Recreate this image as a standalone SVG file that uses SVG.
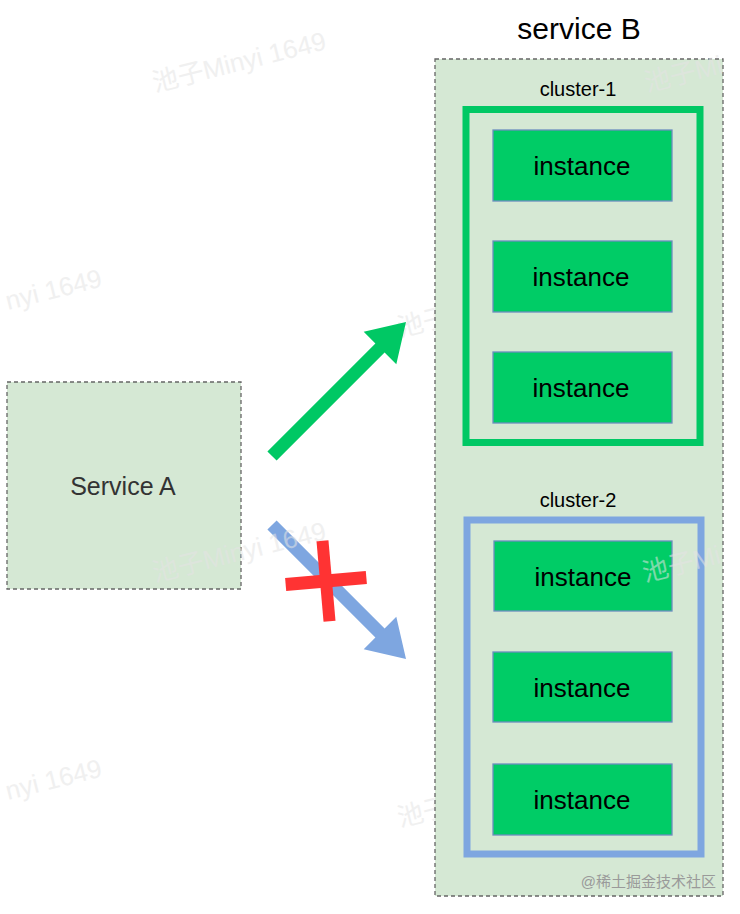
<svg xmlns="http://www.w3.org/2000/svg" width="740" height="914" viewBox="0 0 740 914">
<style>
.dash{fill:#d5e8d4;stroke:#666;stroke-width:1.3;stroke-dasharray:4 3}
.inst{fill:#00cc66;stroke:#6c8ebf;stroke-width:1.3}
.t{font-family:"Liberation Sans",Arial,sans-serif;text-anchor:middle}
.it{font-size:26px;fill:#000}
.cl{font-size:20px;fill:#000}
.wm{font-family:"Liberation Sans","Noto Sans CJK SC",sans-serif;font-size:26px;fill:#e4e4e4;opacity:0.55}
</style>
<rect width="740" height="914" fill="#fff"/>
<g id="watermarks-under">
<text class="wm" transform="translate(400 337) rotate(-14)">池子Minyi 1649</text>
<text class="wm" transform="translate(400 827) rotate(-14)">池子Minyi 1649</text>
</g>
<g id="serviceA">
<rect class="dash" x="7" y="382" width="234" height="207"/>
<text class="t" x="123" y="495" font-size="25" fill="#333">Service A</text>
</g>
<g id="serviceB">
<rect class="dash" x="435" y="59" width="288" height="837"/>
<text class="t" x="579" y="39" font-size="30" fill="#000">service B</text>
</g>
<g id="cluster1">
<text class="t cl" x="578" y="96">cluster-1</text>
<rect x="466" y="109.5" width="234" height="333" fill="none" stroke="#00c864" stroke-width="7"/>
</g>
<g id="cluster2">
<text class="t cl" x="578" y="507">cluster-2</text>
<rect x="467" y="520" width="234" height="334" fill="none" stroke="#7ea6e0" stroke-width="7"/>
</g>
<g id="c1i1"><rect class="inst" x="493" y="130" width="179" height="71"/><text class="t it" x="582" y="175">instance</text></g>
<g id="c1i2"><rect class="inst" x="493" y="241" width="179" height="71"/><text class="t it" x="581" y="286">instance</text></g>
<g id="c1i3"><rect class="inst" x="493" y="352" width="179" height="71"/><text class="t it" x="581" y="397">instance</text></g>
<g id="c2i1"><rect class="inst" x="494" y="541" width="178" height="70"/><text class="t it" x="583" y="586">instance</text></g>
<g id="c2i2"><rect class="inst" x="493" y="652" width="179" height="70"/><text class="t it" x="582" y="697">instance</text></g>
<g id="c2i3"><rect class="inst" x="493" y="764" width="179" height="71"/><text class="t it" x="582" y="809">instance</text></g>
<g id="connectors">
<polygon fill="#00c864" points="267.4,451.4 375.4,343.4 363.7,331.7 406,322 396.3,364.3 384.6,352.6 276.6,460.6"/>
<polygon fill="#7ea6e0" points="276.6,520.4 384.6,628.4 396.3,616.7 406,659 363.7,649.3 375.4,637.6 267.4,529.6"/>
<g transform="rotate(-5 326 581)" fill="#ff3333">
<rect x="285.5" y="574.5" width="81" height="13"/>
<rect x="320" y="540.5" width="12" height="81"/>
</g>
</g>
<g id="watermarks">
<text class="wm" transform="translate(155 92) rotate(-14)">池子Minyi 1649</text>
<text class="wm" transform="translate(647 92) rotate(-14)">池子Mi</text>
<text class="wm" transform="translate(8 310) rotate(-14)">nyi 1649</text>
<text class="wm" transform="translate(155 582) rotate(-14)">池子Minyi 1649</text>
<text class="wm" transform="translate(645 582) rotate(-14)">池子Mi</text>
<text class="wm" transform="translate(8 800) rotate(-14)">nyi 1649</text>
<text x="716" y="887" font-family="'Liberation Sans','Noto Sans CJK SC',sans-serif" font-size="15" fill="#9a9a9a" text-anchor="end">@稀土掘金技术社区</text>
</g>
</svg>
